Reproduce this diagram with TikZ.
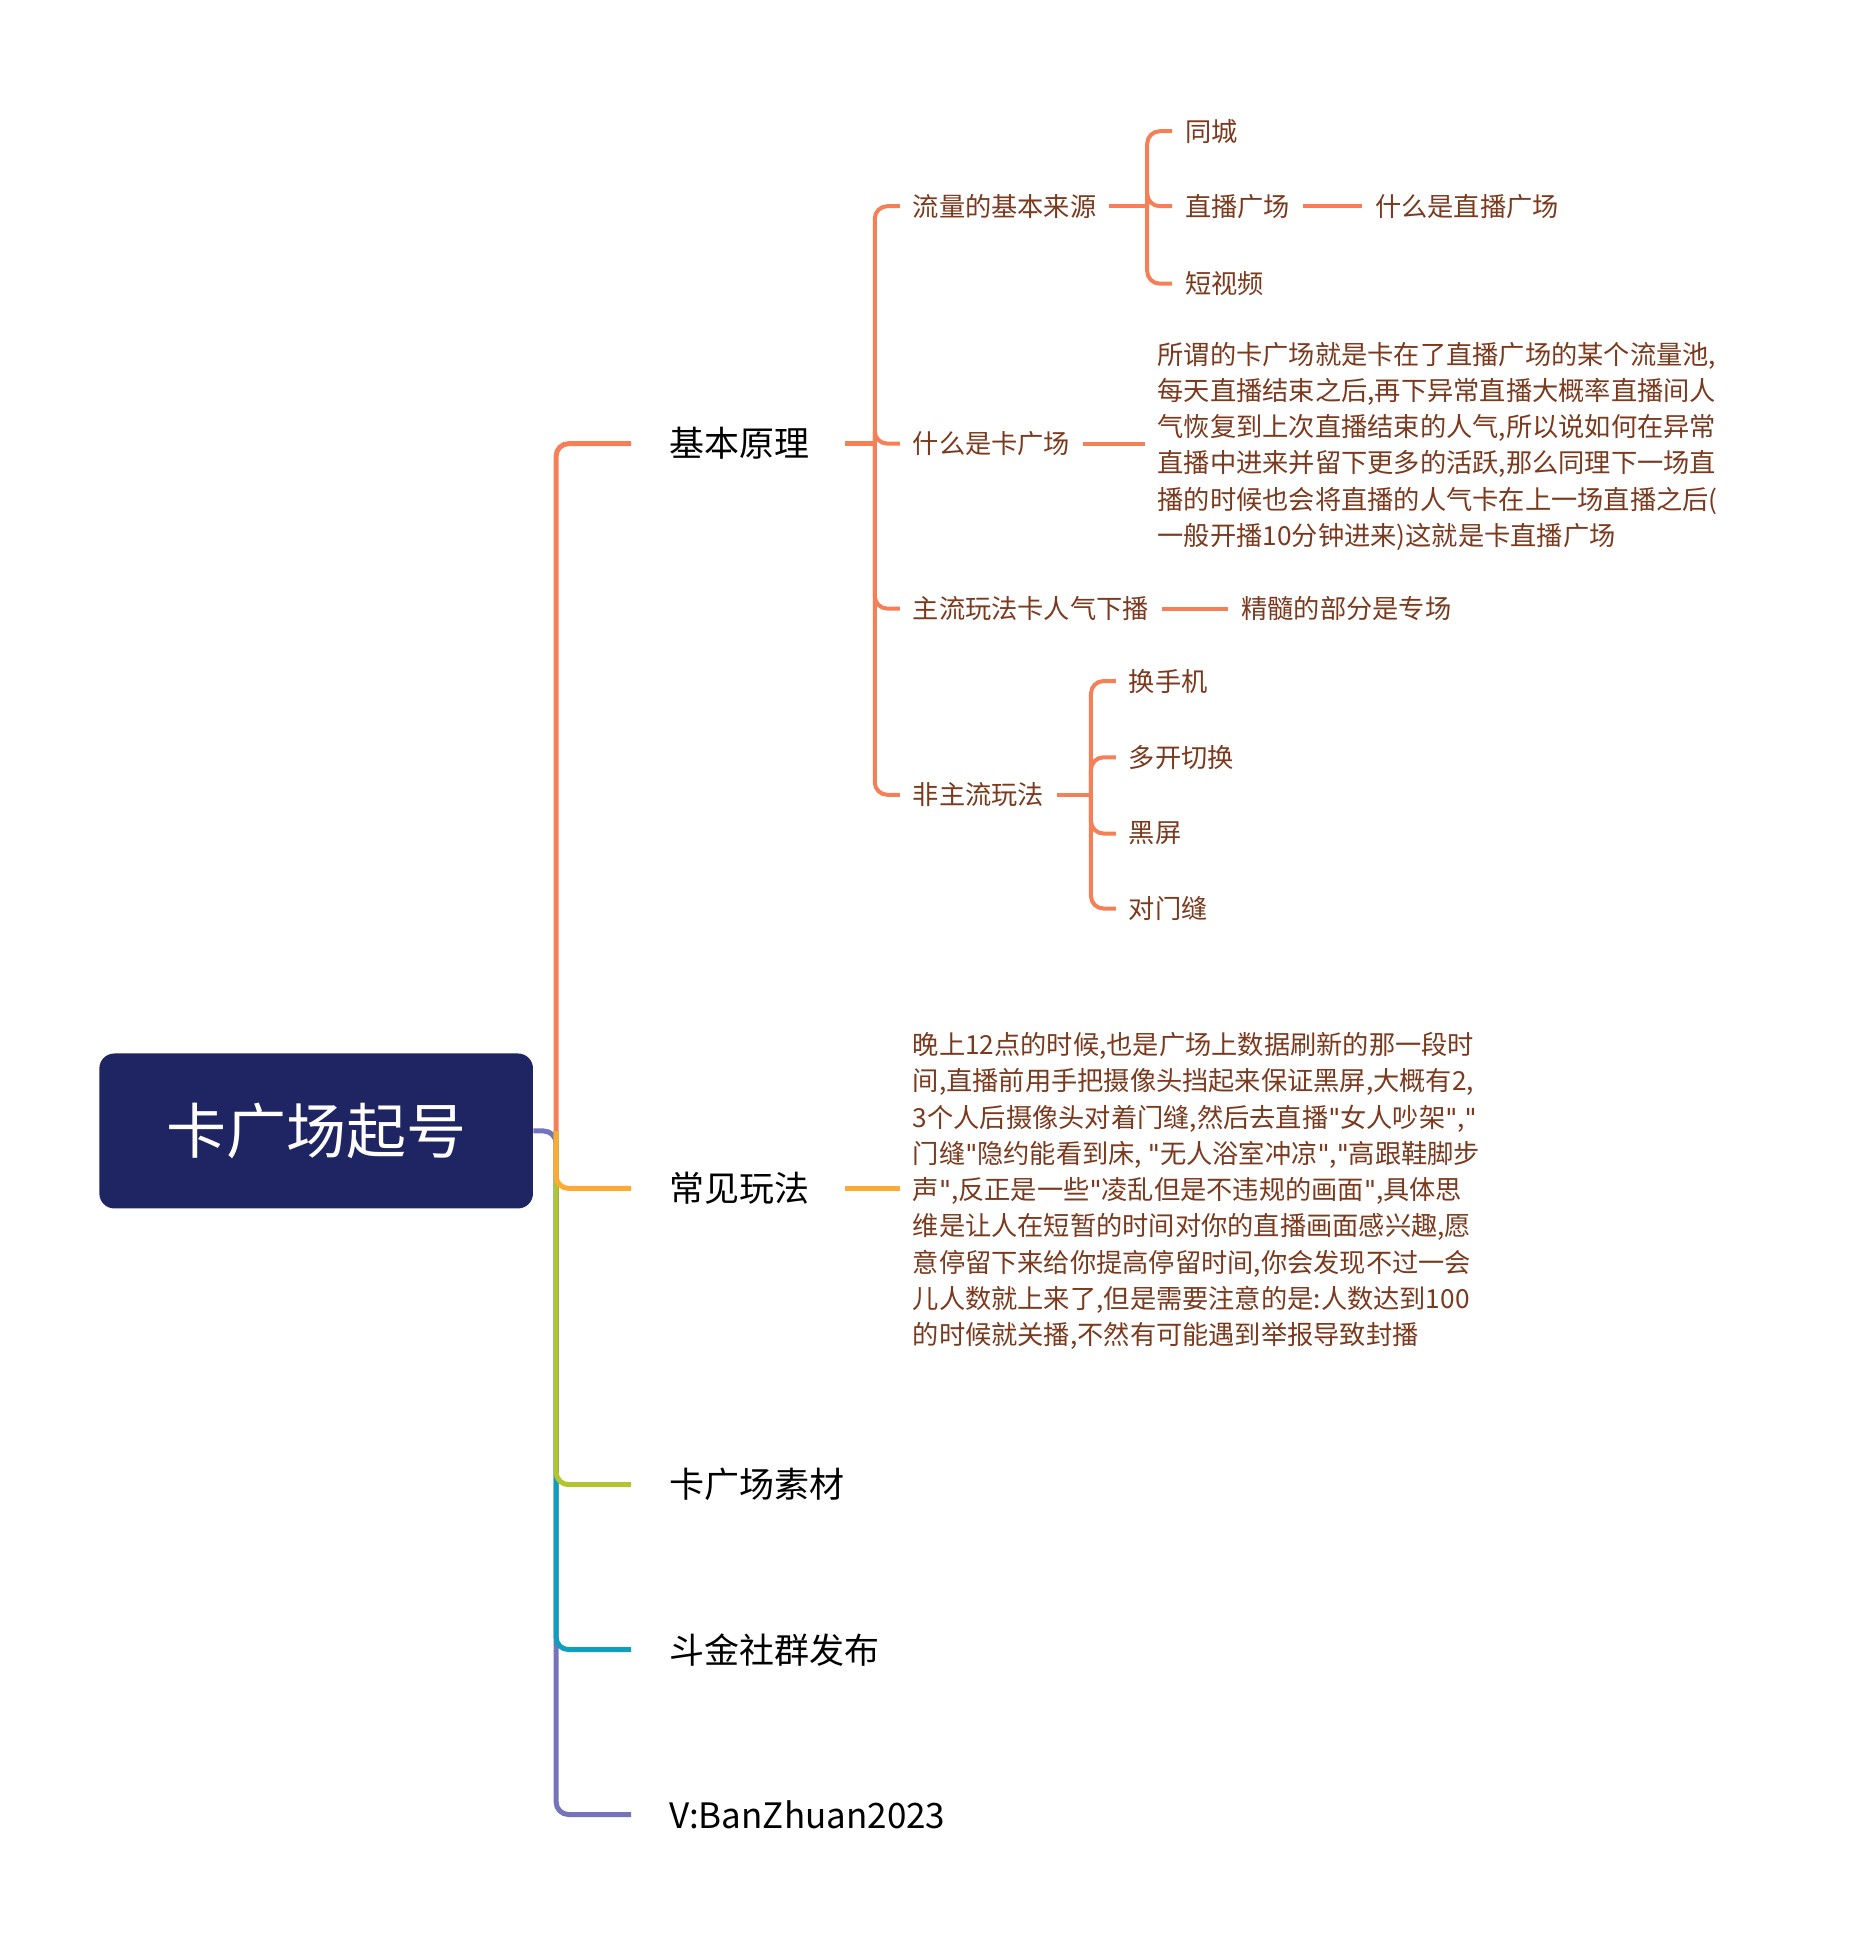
\documentclass[tikz,border=0pt]{standalone}
\usepackage{fontspec}
\setmainfont{Noto Sans CJK SC}
\newfontfamily\quotefont{DejaVu Sans}
\usetikzlibrary{positioning}
\definecolor{rootblue}{HTML}{1F2562}
\definecolor{coral}{HTML}{F58057}
\definecolor{amber}{HTML}{FFAA33}
\definecolor{lime}{HTML}{B3C42F}
\definecolor{teal}{HTML}{0E9FBF}
\definecolor{lilac}{HTML}{7474BD}
\definecolor{leaftext}{HTML}{7B3A1E}
\newcommand\dq{{\quotefont\char"22}}
\tikzset{
  branch/.style={anchor=west, inner sep=0pt, font=\fontsize{14}{14}\selectfont, text=black},
  leaf/.style={anchor=west, inner sep=0pt, font=\fontsize{10.5}{14.5}\selectfont, text=leaftext, align=left},
  link/.style={line width=2pt, rounded corners=5pt},
  sublink/.style={line width=1.6pt, rounded corners=5pt, coral},
}
\begin{document}
\begin{tikzpicture}[x=0.5pt, y=-0.5pt]
\useasboundingbox (0,0) rectangle (1490,1562);
% root
\node[fill=rootblue, rounded corners=6pt, minimum width=173.5pt, minimum height=62pt,
  text=white, font=\fontsize{24}{24}\selectfont] (root) at (253,905) {卡广场起号};
\coordinate (hub) at (445,905);
% main branches
\node[branch] (jb) at (535,355) {基本原理};
\node[branch] (cj) at (535,951) {常见玩法};
\node[branch] (sc) at (535,1188) {卡广场素材};
\node[branch] (dj) at (535,1320) {斗金社群发布};
\node[branch] (vx) at (535,1452) {V:BanZhuan2023};
\draw[link, lilac] (root.east) -- (hub) -- (445,1452) -- ([xshift=-15pt]vx.west);
\draw[link, teal] (hub) -- (445,1320) -- ([xshift=-15pt]dj.west);
\draw[link, lime] (hub) -- (445,1188) -- ([xshift=-15pt]sc.west);
\draw[link, amber] (hub) -- (445,951) -- ([xshift=-15pt]cj.west);
\draw[link, coral] (hub) -- (445,355) -- ([xshift=-15pt]jb.west);

% 基本原理
\node[leaf] (ly) at (730,165) {流量的基本来源};
\node[leaf] (sk) at (730,355) {什么是卡广场};
\node[leaf] (zl) at (730,487) {主流玩法卡人气下播};
\node[leaf] (fz) at (730,636) {非主流玩法};
\coordinate (jbfork) at (700,355);
\draw[sublink, line width=2pt] ([xshift=14pt]jb.east) -- (jbfork);
\foreach \n in {ly,sk,zl,fz}
  \draw[sublink] (jbfork) |- ([xshift=-5pt]\n.west);

% 流量的基本来源
\node[leaf] (tc) at (948,105) {同城};
\node[leaf] (zb) at (948,165) {直播广场};
\node[leaf] (dsp) at (948,227) {短视频};
\coordinate (lyfork) at (918,165);
\draw[sublink] ([xshift=5pt]ly.east) -- (lyfork);
\foreach \n in {tc,zb,dsp}
  \draw[sublink] (lyfork) |- ([xshift=-5pt]\n.west);
\node[leaf] (szb) at (1100,165) {什么是直播广场};
\draw[sublink] ([xshift=5pt]zb.east) -- ([xshift=-5pt]szb.west);

% 什么是卡广场
\node[leaf] (skp) at (926,357) {所谓的卡广场就是卡在了直播广场的某个流量池,\\每天直播结束之后,再下异常直播大概率直播间人\\气恢复到上次直播结束的人气,所以说如何在异常\\直播中进来并留下更多的活跃,那么同理下一场直\\播的时候也会将直播的人气卡在上一场直播之后(\\一般开播10分钟进来)这就是卡直播广场};
\draw[sublink] ([xshift=5pt]sk.east) -- ([xshift=-5pt]sk.east -| skp.west);

% 主流玩法
\node[leaf] (js) at (993,487) {精髓的部分是专场};
\draw[sublink] ([xshift=5pt]zl.east) -- ([xshift=-5pt]js.west);

% 非主流玩法
\node[leaf] (hs) at (903,545) {换手机};
\node[leaf] (dk) at (903,606) {多开切换};
\node[leaf] (hp) at (903,667) {黑屏};
\node[leaf] (dm) at (903,727) {对门缝};
\coordinate (fzfork) at (873,636);
\draw[sublink] ([xshift=5pt]fz.east) -- (fzfork);
\foreach \n in {hs,dk,hp,dm}
  \draw[sublink] (fzfork) |- ([xshift=-5pt]\n.west);

% 常见玩法
\node[leaf] (cjp) at (730,953) {晚上12点的时候,也是广场上数据刷新的那一段时\\间,直播前用手把摄像头挡起来保证黑屏,大概有2,\\3个人后摄像头对着门缝,然后去直播\dq 女人吵架\dq,\dq\\门缝\dq 隐约能看到床, \dq 无人浴室冲凉\dq,\dq 高跟鞋脚步\\声\dq,反正是一些\dq 凌乱但是不违规的画面\dq,具体思\\维是让人在短暂的时间对你的直播画面感兴趣,愿\\意停留下来给你提高停留时间,你会发现不过一会\\儿人数就上来了,但是需要注意的是:人数达到100\\的时候就关播,不然有可能遇到举报导致封播};
\draw[link, amber] ([xshift=14pt]cj.east) -- ([xshift=-5pt]cj.east -| cjp.west);
\end{tikzpicture}
\end{document}
